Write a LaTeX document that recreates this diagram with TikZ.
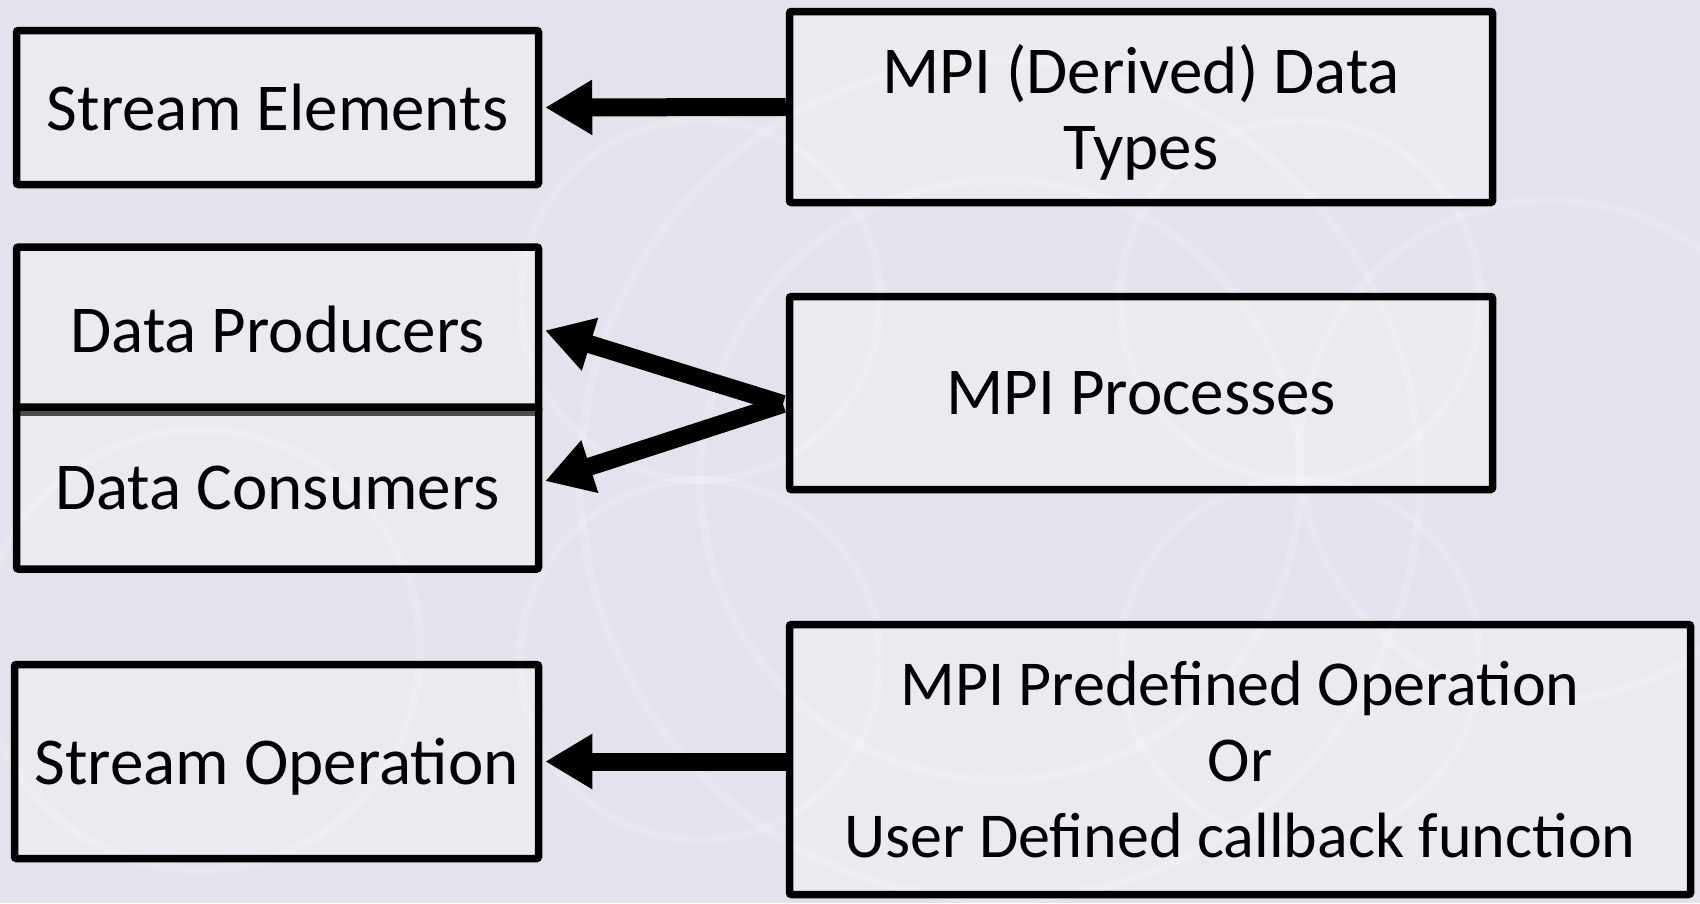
\documentclass[tikz,border=0pt]{standalone}
\usepackage{fontspec}
\setmainfont{Carlito}
\usetikzlibrary{arrows.meta}
\definecolor{bgcol}{RGB}{226,227,236}

\begin{document}
\begin{tikzpicture}[x=1pt,y=-1pt,
  box/.style={draw, line width=7.5pt, rounded corners=2pt, fill=white, fill opacity=0.3, text opacity=1, inner sep=0pt,
    align=center, text depth=0pt, font=\fontsize{67}{76}\selectfont},
  arw/.style={line width=18pt, -{Triangle[length=47pt,width=52pt]}, shorten >=3pt}]
  \fill[bgcol] (0,0) rectangle (1700,903);
  \useasboundingbox (0,0) rectangle (1700,903);
  % faint background rings
  \foreach \cx/\cy/\r in {1000/480/420, 1000/480/300, 700/300/180, 1300/300/180, 700/660/180, 1300/660/180, 1550/450/250, 200/650/220}
    \draw[white, opacity=0.2, line width=8pt] (\cx,\cy) circle[radius=\r];
  \node[box, minimum width=522pt, minimum height=154pt] (se) at (277.5,107.5) {Stream Elements};
  \node[box, minimum width=703pt, minimum height=191pt] (dt) at (1141,107) {MPI (Derived) Data\\Types};
  \node[box, minimum width=522pt, minimum height=165pt] (dp) at (277.5,329.5) {Data Producers};
  \node[box, minimum width=522pt, minimum height=162pt] (dc) at (277.5,488) {Data Consumers};
  \node[box, minimum width=703pt, minimum height=193pt] (pr) at (1141,393) {MPI Processes};
  \node[box, minimum width=524pt, minimum height=194pt] (so) at (276.5,761.5) {Stream Operation};
  \node[box, minimum width=901pt, minimum height=270pt, font=\fontsize{64}{76}\selectfont] (op) at (1240,759.5)
    {MPI Predefined Operation\\Or\\User Defined callback function};
  \coordinate (fork) at (783,404);
  \draw[arw] (dt.west) -- (se.east);
  \draw[arw] (fork) -- (dp.east);
  \draw[arw] (fork) -- ([yshift=6pt]dc.east);
  \draw[arw] (op.west |- so.east) -- (so.east);
\end{tikzpicture}
\end{document}
